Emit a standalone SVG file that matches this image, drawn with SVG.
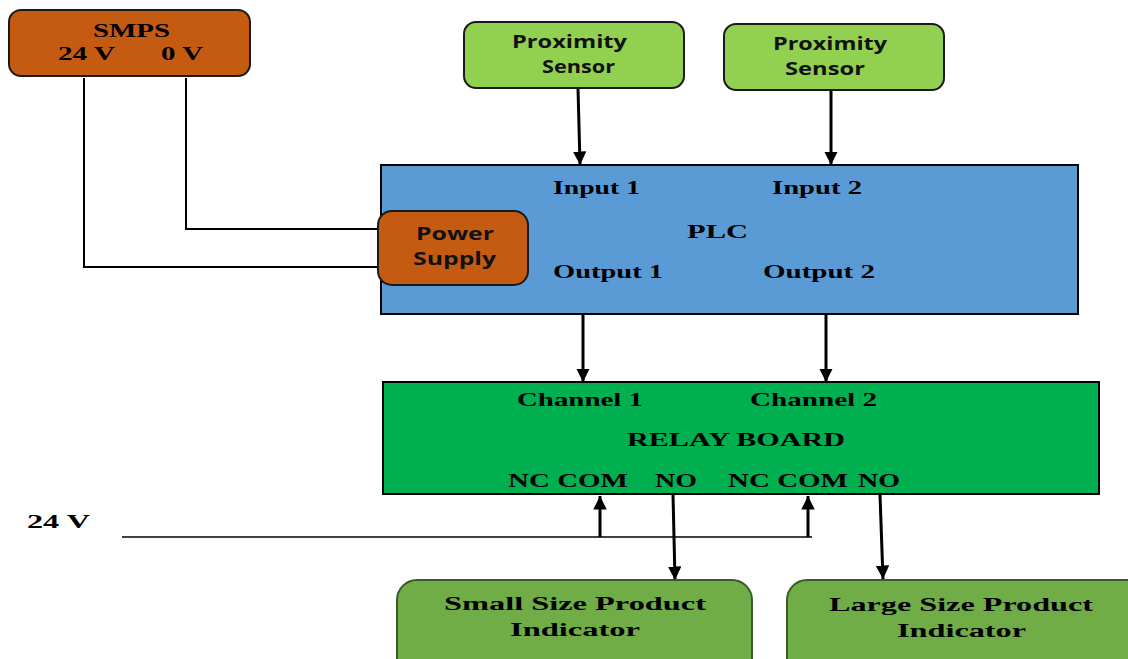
<svg xmlns="http://www.w3.org/2000/svg" width="1128" height="659" viewBox="0 0 1128 659">
<defs>
<marker id="ah" viewBox="0 0 10 10" refX="10" refY="5" markerWidth="4.5" markerHeight="4.5" markerUnits="strokeWidth" orient="auto"><path d="M0,0 L10,5 L0,10 z" fill="#000"/></marker>
</defs>
<style>
.ser{font-family:"Liberation Serif","Times New Roman",serif;font-weight:bold;font-size:19.5px;fill:#000}
.san{font-family:"Open Sans","Liberation Sans",Arial,sans-serif;font-weight:bold;font-size:17px;fill:#111}
.wire{stroke:#000;stroke-width:2;fill:none}
.arr{stroke:#000;stroke-width:3;fill:none;marker-end:url(#ah)}
.orange{fill:#C55A11;stroke:#1a1a1a;stroke-width:2}
.lg{fill:#92D050;stroke:#1a1a1a;stroke-width:2}
.dg{fill:#70AD47;stroke:#3a5a2a;stroke-width:2}
</style>
<rect width="1128" height="659" fill="#fff"/>
<g id="connectors">
<polyline class="wire" points="84,78 84,267 380,267"/>
<polyline class="wire" points="186,78 186,229 380,229"/>
<line class="arr" x1="578" y1="88" x2="580" y2="165"/>
<line class="arr" x1="831" y1="90" x2="831" y2="165"/>
<line class="arr" x1="583" y1="314" x2="583" y2="382"/>
<line class="arr" x1="826" y1="314" x2="826" y2="382"/>
<line x1="122" y1="537" x2="812" y2="537" stroke="#000" stroke-width="1.5"/>
<line class="arr" x1="600" y1="537" x2="600" y2="496"/>
<line class="arr" x1="808" y1="537" x2="808" y2="496"/>
<line class="arr" x1="673" y1="494" x2="675" y2="580"/>
<line class="arr" x1="880" y1="495" x2="883" y2="579"/>
</g>
<g id="smps">
<rect class="orange" x="9" y="10" width="241" height="66" rx="12"/>
<text class="ser" x="93" y="37" textLength="77" lengthAdjust="spacingAndGlyphs">SMPS</text>
<text class="ser" x="58" y="60" textLength="57" lengthAdjust="spacingAndGlyphs">24 V</text>
<text class="ser" x="161" y="60" textLength="42" lengthAdjust="spacingAndGlyphs">0 V</text>
</g>
<g id="sensor1">
<rect class="lg" x="464" y="22" width="220" height="66" rx="12"/>
<text class="san" x="512" y="48" textLength="115" lengthAdjust="spacingAndGlyphs">Proximity</text>
<text class="san" x="542" y="73" textLength="73" lengthAdjust="spacingAndGlyphs">Sensor</text>
</g>
<g id="sensor2">
<rect class="lg" x="724" y="24" width="220" height="66" rx="12"/>
<text class="san" x="773" y="50" textLength="114" lengthAdjust="spacingAndGlyphs">Proximity</text>
<text class="san" x="785" y="75" textLength="80" lengthAdjust="spacingAndGlyphs">Sensor</text>
</g>
<g id="plc">
<rect x="381" y="165" width="697" height="149" fill="#5B9BD5" stroke="#000" stroke-width="2"/>
<text class="ser" x="553" y="194" textLength="87" lengthAdjust="spacingAndGlyphs">Input 1</text>
<text class="ser" x="772" y="194" textLength="90" lengthAdjust="spacingAndGlyphs">Input 2</text>
<text class="ser" x="687" y="238" textLength="61" lengthAdjust="spacingAndGlyphs">PLC</text>
<text class="ser" x="553" y="278" textLength="110" lengthAdjust="spacingAndGlyphs">Output 1</text>
<text class="ser" x="763" y="278" textLength="112" lengthAdjust="spacingAndGlyphs">Output 2</text>
</g>
<g id="power-supply">
<rect class="orange" x="378" y="211" width="150" height="74" rx="14"/>
<text class="san" x="416" y="240" textLength="78" lengthAdjust="spacingAndGlyphs">Power</text>
<text class="san" x="413" y="265" textLength="83" lengthAdjust="spacingAndGlyphs">Supply</text>
</g>
<g id="relay-board">
<rect x="383" y="382" width="716" height="112" fill="#00B050" stroke="#000" stroke-width="2"/>
<text class="ser" x="517" y="406" textLength="126" lengthAdjust="spacingAndGlyphs">Channel 1</text>
<text class="ser" x="750" y="406" textLength="127" lengthAdjust="spacingAndGlyphs">Channel 2</text>
<text class="ser" x="627" y="446" textLength="218" lengthAdjust="spacingAndGlyphs">RELAY BOARD</text>
<text class="ser" x="508" y="487" textLength="120" lengthAdjust="spacingAndGlyphs">NC COM</text>
<text class="ser" x="655" y="487" textLength="42" lengthAdjust="spacingAndGlyphs">NO</text>
<text class="ser" x="728" y="487" textLength="120" lengthAdjust="spacingAndGlyphs">NC COM</text>
<text class="ser" x="858" y="487" textLength="42" lengthAdjust="spacingAndGlyphs">NO</text>
</g>
<g id="supply-24v">
<text class="ser" x="27" y="528" textLength="63" lengthAdjust="spacingAndGlyphs">24 V</text>
</g>
<g id="small-indicator">
<rect class="dg" x="397" y="580" width="355" height="100" rx="20"/>
<text class="ser" x="444" y="610" textLength="262" lengthAdjust="spacingAndGlyphs">Small Size Product</text>
<text class="ser" x="510" y="636" textLength="130" lengthAdjust="spacingAndGlyphs">Indicator</text>
</g>
<g id="large-indicator">
<rect class="dg" x="787" y="580" width="360" height="100" rx="20"/>
<text class="ser" x="829" y="611" textLength="264" lengthAdjust="spacingAndGlyphs">Large Size Product</text>
<text class="ser" x="897" y="637" textLength="129" lengthAdjust="spacingAndGlyphs">Indicator</text>
</g>
</svg>
